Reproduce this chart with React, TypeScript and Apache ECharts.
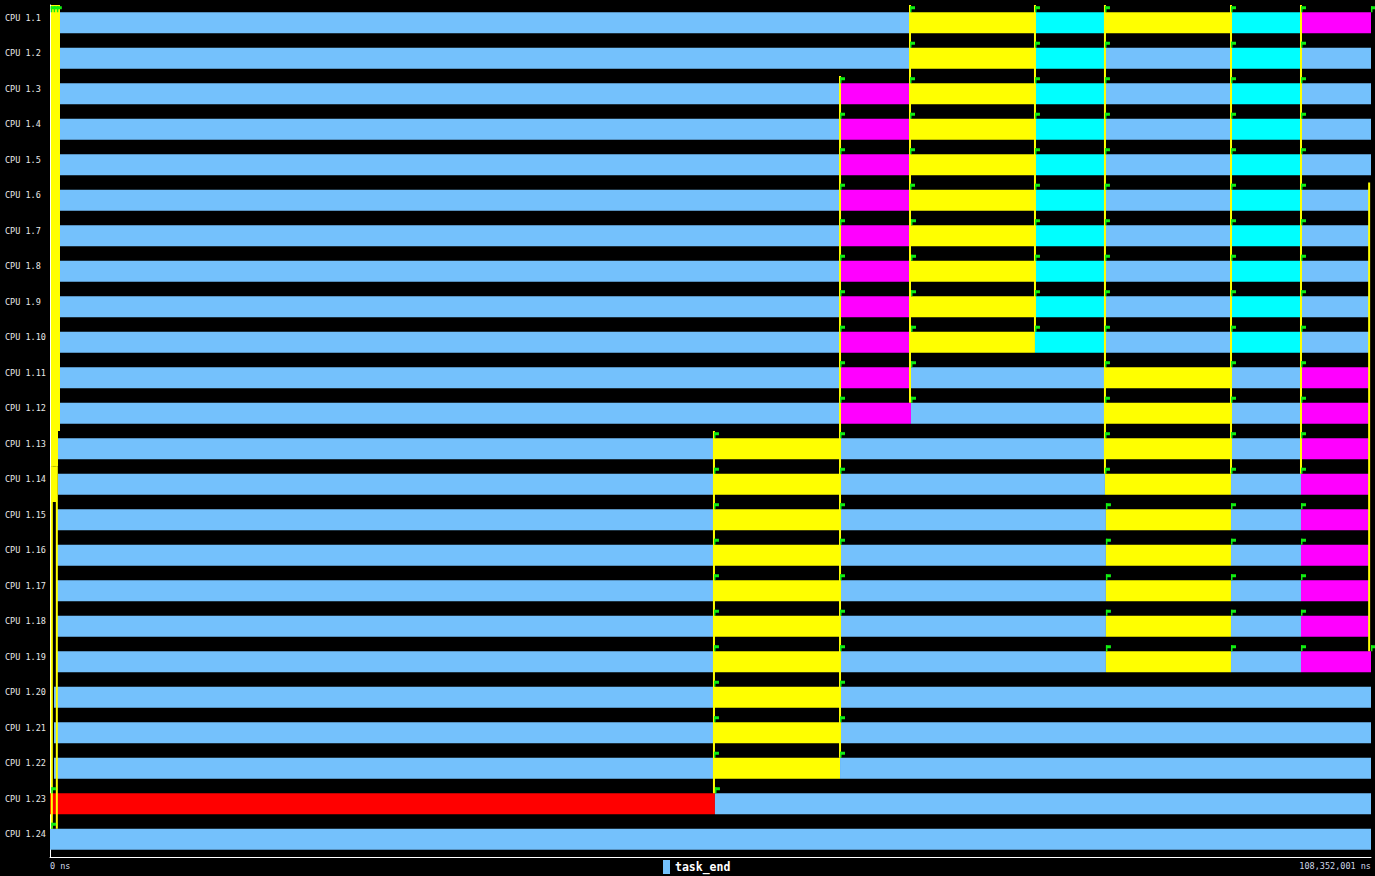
import React, { useEffect, useRef } from "react";
import * as echarts from "echarts";

const cpuRows = [
  "CPU 1.1", "CPU 1.2", "CPU 1.3", "CPU 1.4", "CPU 1.5", "CPU 1.6",
  "CPU 1.7", "CPU 1.8", "CPU 1.9", "CPU 1.10", "CPU 1.11", "CPU 1.12",
  "CPU 1.13", "CPU 1.14", "CPU 1.15", "CPU 1.16", "CPU 1.17", "CPU 1.18",
  "CPU 1.19", "CPU 1.20", "CPU 1.21", "CPU 1.22", "CPU 1.23", "CPU 1.24",
];

const totalNs = 108352001;
const axisTickValues = [0, 108352001];

const kindColors: Record<string, string> = {
  task_end: "#74c1fc",
  run: "#ffff00",
  wait: "#00ffff",
  preempt: "#ff00ff",
  irq: "#ff0000",
};

// [rowIndex, startNs, endNs, kind]
const segments: [number, number, number, string][] = [
  // CPU 1.1
  [0, 820000, 70540000, "task_end"], [0, 70540000, 80790000, "run"], [0, 80790000, 86530000, "wait"],
  [0, 86530000, 96870000, "run"], [0, 96870000, 102610000, "wait"], [0, 102610000, 108352001, "preempt"],
  // CPU 1.2
  [1, 820000, 70540000, "task_end"], [1, 70540000, 80790000, "run"], [1, 80790000, 86530000, "wait"],
  [1, 86530000, 96870000, "task_end"], [1, 96870000, 102610000, "wait"], [1, 102610000, 108352001, "task_end"],
  // CPU 1.3
  [2, 820000, 64800000, "task_end"], [2, 64800000, 70540000, "preempt"], [2, 70540000, 80790000, "run"],
  [2, 80790000, 86530000, "wait"], [2, 86530000, 96870000, "task_end"], [2, 96870000, 102610000, "wait"],
  [2, 102610000, 108352001, "task_end"],
  // CPU 1.4
  [3, 820000, 64800000, "task_end"], [3, 64800000, 70540000, "preempt"], [3, 70540000, 80790000, "run"],
  [3, 80790000, 86530000, "wait"], [3, 86530000, 96870000, "task_end"], [3, 96870000, 102610000, "wait"],
  [3, 102610000, 108352001, "task_end"],
  // CPU 1.5
  [4, 820000, 64800000, "task_end"], [4, 64800000, 70540000, "preempt"], [4, 70540000, 80790000, "run"],
  [4, 80790000, 86530000, "wait"], [4, 86530000, 96870000, "task_end"], [4, 96870000, 102610000, "wait"],
  [4, 102610000, 108352001, "task_end"],
  // CPU 1.6
  [5, 820000, 64800000, "task_end"], [5, 64800000, 70540000, "preempt"], [5, 70540000, 80790000, "run"],
  [5, 80790000, 86530000, "wait"], [5, 86530000, 96870000, "task_end"], [5, 96870000, 102610000, "wait"],
  [5, 102610000, 108200000, "task_end"],
  // CPU 1.7
  [6, 820000, 64800000, "task_end"], [6, 64800000, 70620000, "preempt"], [6, 70620000, 80790000, "run"],
  [6, 80790000, 86530000, "wait"], [6, 86530000, 96870000, "task_end"], [6, 96870000, 102610000, "wait"],
  [6, 102610000, 108200000, "task_end"],
  // CPU 1.8
  [7, 820000, 64800000, "task_end"], [7, 64800000, 70620000, "preempt"], [7, 70620000, 80790000, "run"],
  [7, 80790000, 86530000, "wait"], [7, 86530000, 96870000, "task_end"], [7, 96870000, 102610000, "wait"],
  [7, 102610000, 108200000, "task_end"],
  // CPU 1.9
  [8, 820000, 64800000, "task_end"], [8, 64800000, 70620000, "preempt"], [8, 70620000, 80790000, "run"],
  [8, 80790000, 86530000, "wait"], [8, 86530000, 96870000, "task_end"], [8, 96870000, 102610000, "wait"],
  [8, 102610000, 108200000, "task_end"],
  // CPU 1.10
  [9, 820000, 64800000, "task_end"], [9, 64800000, 70620000, "preempt"], [9, 70620000, 80790000, "run"],
  [9, 80790000, 86530000, "wait"], [9, 86530000, 96870000, "task_end"], [9, 96870000, 102610000, "wait"],
  [9, 102610000, 108200000, "task_end"],
  // CPU 1.11
  [10, 820000, 64800000, "task_end"], [10, 64800000, 70620000, "preempt"], [10, 70620000, 86530000, "task_end"],
  [10, 86530000, 96870000, "run"], [10, 96870000, 102610000, "task_end"], [10, 102610000, 108200000, "preempt"],
  // CPU 1.12
  [11, 820000, 64800000, "task_end"], [11, 64800000, 70620000, "preempt"], [11, 70620000, 86530000, "task_end"],
  [11, 86530000, 96870000, "run"], [11, 96870000, 102610000, "task_end"], [11, 102610000, 108200000, "preempt"],
  // CPU 1.13
  [12, 656000, 54460000, "task_end"], [12, 54460000, 64800000, "run"], [12, 64800000, 86530000, "task_end"],
  [12, 86530000, 96870000, "run"], [12, 96870000, 102610000, "task_end"], [12, 102610000, 108200000, "preempt"],
  // CPU 1.14
  [13, 656000, 54460000, "task_end"], [13, 54460000, 64800000, "run"], [13, 64800000, 86530000, "task_end"],
  [13, 86530000, 96870000, "run"], [13, 96870000, 102610000, "task_end"], [13, 102610000, 108200000, "preempt"],
  // CPU 1.15
  [14, 490000, 54460000, "task_end"], [14, 54460000, 64800000, "run"], [14, 64800000, 86610000, "task_end"],
  [14, 86610000, 96870000, "run"], [14, 96870000, 102610000, "task_end"], [14, 102610000, 108200000, "preempt"],
  // CPU 1.16
  [15, 490000, 54460000, "task_end"], [15, 54460000, 64800000, "run"], [15, 64800000, 86610000, "task_end"],
  [15, 86610000, 96870000, "run"], [15, 96870000, 102610000, "task_end"], [15, 102610000, 108200000, "preempt"],
  // CPU 1.17
  [16, 490000, 54460000, "task_end"], [16, 54460000, 64800000, "run"], [16, 64800000, 86610000, "task_end"],
  [16, 86610000, 96870000, "run"], [16, 96870000, 102610000, "task_end"], [16, 102610000, 108200000, "preempt"],
  // CPU 1.18
  [17, 490000, 54460000, "task_end"], [17, 54460000, 64800000, "run"], [17, 64800000, 86610000, "task_end"],
  [17, 86610000, 96870000, "run"], [17, 96870000, 102610000, "task_end"], [17, 102610000, 108200000, "preempt"],
  // CPU 1.19
  [18, 490000, 54460000, "task_end"], [18, 54460000, 64800000, "run"], [18, 64800000, 86610000, "task_end"],
  [18, 86610000, 96870000, "run"], [18, 96870000, 102610000, "task_end"], [18, 102610000, 108352001, "preempt"],
  // CPU 1.20
  [19, 330000, 54460000, "task_end"], [19, 54460000, 64800000, "run"], [19, 64800000, 108352001, "task_end"],
  // CPU 1.21
  [20, 330000, 54460000, "task_end"], [20, 54460000, 64800000, "run"], [20, 64800000, 108352001, "task_end"],
  // CPU 1.22
  [21, 330000, 54460000, "task_end"], [21, 54460000, 64800000, "run"], [21, 64800000, 108352001, "task_end"],
  // CPU 1.23
  [22, 0, 54540000, "irq"], [22, 54540000, 108352001, "task_end"],
  // CPU 1.24
  [23, 0, 108352001, "task_end"],
];

// yellow wake-up lines: [timeNs, fromRow, toRow]
const flowLines: [number, number, number][] = [
  [54460000, 12, 22],
  [64800000, 2, 21],
  [70540000, 0, 11],
  [80790000, 0, 9],
  [86530000, 0, 13],
  [96870000, 0, 13],
  [102610000, 0, 13],
  [108200000, 5, 18],
  [150000, 13, 23],
  [560000, 13, 23],
];

// dense burst at the very start: [startNs, endNs, fromRow, toRow]
const burstBands: [number, number, number, number][] = [
  [80000, 820000, 0, 11],
  [80000, 656000, 12, 12],
  [80000, 560000, 13, 13],
];

// extra event flags: [timeNs, row]
const extraFlags: [number, number][] = [
  [60000, 0], [300000, 0], [560000, 0], [100000, 22], [100000, 23],
];

const BAR_H = 21;

export default function App() {
  const ref = useRef<HTMLDivElement>(null);

  useEffect(() => {
    if (!ref.current) return;
    const chart = echarts.init(ref.current, null, { renderer: "svg" });

    const segData = segments.map((s) => [s[1], s[2], s[0]]);
    const flagData: number[][] = [];
    segments.forEach((s) => {
      if (s[1] > 1000000) flagData.push([s[1], s[0]]);
      if (s[2] === totalNs && s[3] !== "task_end") flagData.push([s[2], s[0]]);
    });
    extraFlags.forEach((f) => flagData.push([f[0], f[1]]));

    const option: any = {
      backgroundColor: "#000",
      animation: false,
      grid: { left: 50, right: 4, top: 5, bottom: 19 },
      legend: {
        data: ["task_end"],
        left: 663,
        top: 860,
        padding: 0,
        icon: "rect",
        itemWidth: 7,
        itemHeight: 14,
        textStyle: { color: "#ffffff", fontWeight: "bold", fontSize: 11.5, fontFamily: "DejaVu Sans Mono" },
      },
      xAxis: {
        type: "value",
        min: 0,
        max: totalNs,
        axisLine: { show: true, lineStyle: { color: "#ffffff", width: 1 } },
        axisTick: { show: false },
        splitLine: { show: false },
        axisLabel: {
          customValues: axisTickValues,
          alignMinLabel: "left",
          alignMaxLabel: "right",
          color: "#d0d8e8",
          fontSize: 8.5,
          fontFamily: "DejaVu Sans Mono",
          margin: 4,
          formatter: (v: number) => v.toLocaleString("en-US") + " ns",
        },
      },
      yAxis: {
        type: "category",
        data: cpuRows,
        inverse: true,
        axisLine: { show: true, lineStyle: { color: "#ffffff", width: 1 } },
        axisTick: { show: false },
        splitLine: { show: false },
        axisLabel: {
          align: "left",
          verticalAlign: "bottom",
          lineHeight: 10,
          margin: 45,
          color: "#e8e8e8",
          fontSize: 8.5,
          fontFamily: "DejaVu Sans Mono",
        },
      },
      series: [
        {
          type: "custom",
          name: "task_end",
          itemStyle: { color: kindColors.task_end },
          encode: { x: [0, 1], y: 2 },
          data: segData,
          renderItem: (params: any, api: any) => {
            const row = api.value(2);
            const s = api.coord([api.value(0), row]);
            const e = api.coord([api.value(1), row]);
            const kind = segments[params.dataIndex][3];
            return {
              type: "rect",
              shape: { x: s[0], y: s[1] - BAR_H / 2, width: e[0] - s[0], height: BAR_H },
              style: { fill: kindColors[kind] },
            };
          },
        },
        {
          type: "custom",
          name: "burst",
          encode: { x: [0, 1], y: 2 },
          data: burstBands.map((b) => [b[0], b[1], b[2], b[3]]),
          renderItem: (params: any, api: any) => {
            const band = api.size([0, 1])[1];
            const a = api.coord([api.value(0), api.value(2)]);
            const b = api.coord([api.value(1), api.value(3)]);
            return {
              type: "rect",
              shape: { x: a[0], y: a[1] - band / 2, width: b[0] - a[0], height: b[1] - a[1] + band },
              style: { fill: "#ffff00" },
            };
          },
        },
        {
          type: "custom",
          name: "wakeup",
          encode: { x: 0, y: 1 },
          data: flowLines.map((f) => [f[0], f[1], f[2]]),
          renderItem: (params: any, api: any) => {
            const band = api.size([0, 1])[1];
            const a = api.coord([api.value(0), api.value(1)]);
            const b = api.coord([api.value(0), api.value(2)]);
            return {
              type: "line",
              shape: { x1: a[0], y1: a[1] - band / 2, x2: b[0], y2: b[1] - BAR_H / 2 },
              style: { stroke: "#ffff00", lineWidth: 2 },
            };
          },
        },
        {
          type: "custom",
          name: "flags",
          encode: { x: 0, y: 1 },
          data: flagData,
          renderItem: (params: any, api: any) => {
            const p = api.coord([api.value(0), api.value(1)]);
            const top = p[1] - BAR_H / 2;
            return {
              type: "group",
              children: [
                { type: "rect", shape: { x: p[0], y: top - 6, width: 1.5, height: 6 }, style: { fill: "#11ee11" } },
                { type: "rect", shape: { x: p[0], y: top - 6, width: 5, height: 3 }, style: { fill: "#11ee11" } },
              ],
            };
          },
        },
      ],
    };

    chart.setOption(option);
    return () => chart.dispose();
  }, []);

  return (
    <div
      ref={ref}
      style={{ position: "fixed", left: 0, top: 0, width: 1375, height: 876 }}
    />
  );
}
